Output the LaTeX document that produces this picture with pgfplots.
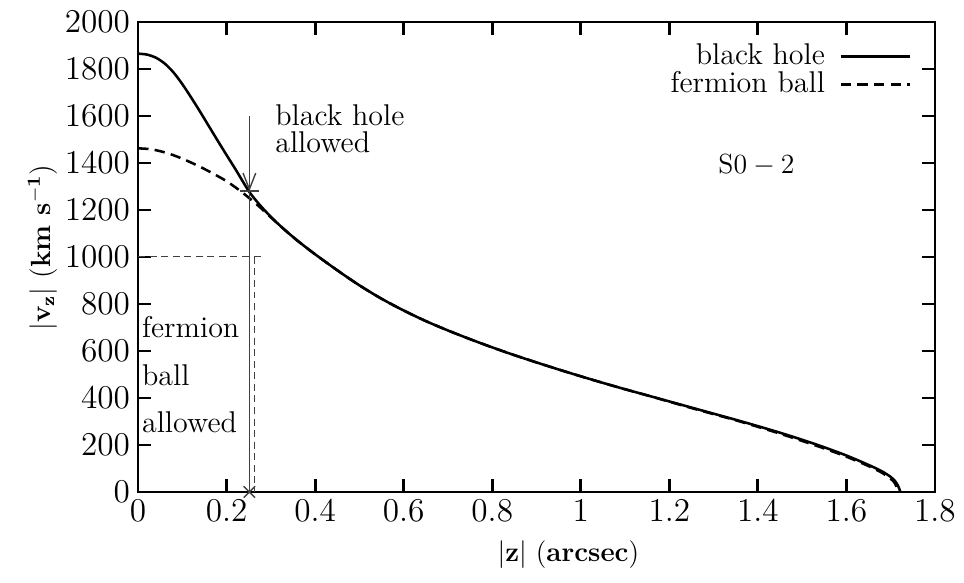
\documentclass[border=0pt]{standalone}
\usepackage{pgfplots}
\pgfplotsset{compat=1.18}
\usetikzlibrary{arrows.meta}
\begin{document}
\begin{tikzpicture}
\begin{axis}[
  scale only axis, width=345pt, height=203.5pt,
  xmin=0, xmax=1.8, ymin=0, ymax=2000,
  xtick={0,0.2,0.4,0.6,0.8,1,1.2,1.4,1.6,1.8},
  ytick={0,200,400,600,800,1000,1200,1400,1600,1800,2000},
  tick align=inside, major tick length=5.5pt,
  axis line style={line width=1.2pt},
  every tick/.style={black, line width=1.2pt},
  tick label style={font=\fontsize{14}{16}\selectfont},
  /pgf/number format/1000 sep={},
  clip=false,
  xlabel={$|\mathbf{z}|$ (\textbf{arcsec})},
  ylabel={$|\mathbf{v}_{\mathbf{z}}|$ (\textbf{km s}$^{\mathbf{-1}}$)},
  label style={font=\fontsize{12}{14}\selectfont},
  xlabel style={at={(axis description cs:0.54,-0.134)}, anchor=center},
  ylabel style={at={(axis description cs:-0.12,0.52)}, anchor=center},
  legend style={draw=none, fill=none, at={(rel axis cs:0.971,0.957)}, anchor=north east,
    inner sep=0pt, row sep=0pt, column sep=6pt, font=\fontsize{13}{15}\selectfont,
    nodes={inner sep=0.3pt, text height=9pt, text depth=2.5pt}},
  legend cell align=right,
  legend plot pos=right,
  legend image code/.code={\draw[#1] (0pt,0pt) -- (30pt,0pt);},
]
\addplot[black, line width=1.1pt, smooth] coordinates {
(0,1865) (0.02,1861) (0.04,1848) (0.06,1823) (0.08,1785) (0.10,1735)
(0.12,1678) (0.14,1618) (0.16,1556) (0.18,1494) (0.20,1433) (0.22,1373)
(0.25,1280) (0.27,1232) (0.29,1190) (0.31,1152) (0.33,1117) (0.35,1085)
(0.375,1047) (0.40,1011) (0.45,943) (0.50,879) (0.55,822) (0.60,772)
(0.65,727) (0.70,687) (0.75,650) (0.80,615) (0.85,582) (0.90,551)
(0.95,521) (1.00,492) (1.05,464) (1.10,437) (1.15,411) (1.20,385)
(1.25,359) (1.30,333) (1.35,307) (1.40,280) (1.45,252) (1.50,222)
(1.55,190) (1.60,155) (1.65,115) (1.68,88) (1.70,64) (1.71,46)
(1.717,25) (1.722,0)
};
\addlegendentry{black hole}
\addplot[black, line width=1.1pt, smooth, dash pattern=on 4.5pt off 2.7pt] coordinates {
(0,1462) (0.025,1459) (0.05,1450) (0.075,1436) (0.10,1418) (0.125,1397)
(0.15,1374) (0.175,1349) (0.20,1322) (0.225,1289) (0.25,1252) (0.275,1212)
(0.30,1168) (0.325,1126) (0.35,1084) (0.375,1047) (0.40,1011)
(0.45,943) (0.50,879) (0.55,822) (0.60,772)
(0.65,727) (0.70,687) (0.75,650) (0.80,615) (0.85,582) (0.90,551)
(0.95,521) (1.00,492) (1.05,464) (1.10,437) (1.15,411) (1.20,384)
(1.25,357) (1.30,331) (1.35,305) (1.40,277) (1.45,248) (1.50,217)
(1.55,185) (1.60,150) (1.65,110) (1.68,82) (1.70,56) (1.71,36) (1.716,0)
};
\addlegendentry{fermion ball}
% reference lines
\addplot[forget plot, black!75, line width=0.6pt] coordinates {(0.2514,1280) (0.2514,0)};
\addplot[forget plot, black!75, line width=0.6pt, -{Straight Barb[length=7pt,width=5.5pt]}] coordinates {(0.2514,1600) (0.2514,1280)};
\addplot[forget plot, black!75, line width=0.6pt, only marks, mark=-, mark size=4pt, mark options={line width=0.6pt}] coordinates {(0.2514,1280)};
\addplot[forget plot, black!75, line width=0.6pt, only marks, mark=x, mark size=3.5pt, mark options={line width=0.6pt}] coordinates {(0.2514,0)};
\addplot[forget plot, black!75, line width=0.5pt, dash pattern=on 3pt off 2pt] coordinates {(0,1000) (0.283,1000)};
\addplot[forget plot, black!75, line width=0.5pt, dash pattern=on 3pt off 2pt] coordinates {(0.262,1000) (0.262,0)};
% texts
\begin{scope}[every node/.style={font=\fontsize{13}{15}\selectfont, inner sep=0pt, anchor=base west}]
\node[anchor=north west, align=left, font=\fontsize{13}{11.8}\selectfont] at (axis cs:0.309,1650) {black hole\\allowed};
\node at (axis cs:0.008,655) {fermion};
\node at (axis cs:0.008,451) {ball};
\node at (axis cs:0.008,252) {allowed};
\node at (axis cs:1.31,1357) {$\mathrm{S0}-2$};
\end{scope}
\end{axis}
\path (current axis.south west) ++(-59.8pt,-39.4pt) coordinate (bbsw);
\path (current axis.north east) ++(12.6pt,9.5pt) coordinate (bbne);
\pgfresetboundingbox
\path[use as bounding box] (bbsw) rectangle (bbne);
\end{tikzpicture}
\end{document}
